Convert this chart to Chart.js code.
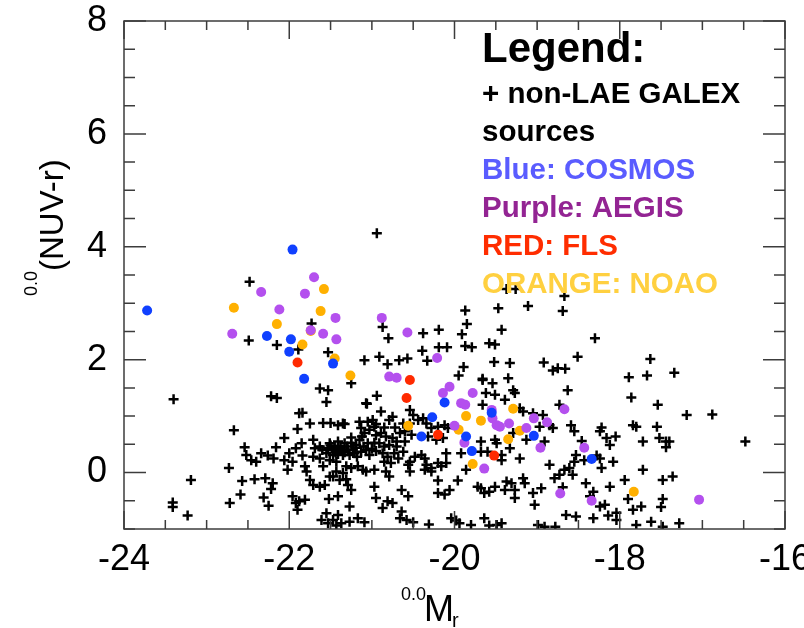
<!DOCTYPE html>
<html><head><meta charset="utf-8">
<script src="https://cdn.jsdelivr.net/npm/chart.js@4.4.0/dist/chart.umd.min.js"></script>
<style>html,body{margin:0;padding:0;background:#fff;}canvas{display:block;}</style>
</head><body>
<canvas id="c" width="804" height="628"></canvas>
<script>
const xTicks = [-24, -22, -20, -18, -16];
const yTicks = [0, 2, 4, 6, 8];

const galexPoints = [
[-22.48,3.38],[-22.49,2.34],[-22.15,2.26],[-21.89,2.18],[-21.73,2.64],[-21.53,2.13],
[-20.94,4.24],[-19.37,3.25],[-19.26,3.25],[-19.87,2.87],[-19.47,2.91],[-19.11,2.95],[-19.85,2.63],[-19.43,2.53],[-20.87,2.58],[-20.80,2.38],[-20.38,2.47],[-20.19,2.53],[-19.91,2.45],[-20.39,2.16],[-20.19,2.22],[-20.09,2.22],[-19.87,2.24],[-19.79,2.22],[-19.58,2.29],[-19.51,2.27],[-21.09,1.99],[-20.91,2.05],[-20.81,1.92],[-20.67,1.99],[-20.57,2.02],[-20.33,1.98],[-19.89,1.87],[-19.52,1.96],[-19.33,1.94],[-18.92,1.95],[-18.81,1.81],[-18.75,1.85],[-19.95,1.72],[-19.66,1.66],[-19.35,1.67],[-18.67,3.13],[-18.69,2.86],[-18.30,2.38],[-18.51,2.05],[-18.66,1.84],[-17.63,2.01],[-17.89,1.69],[-17.67,1.72],[-17.34,1.77],
[-23.40,1.30],[-22.22,1.35],[-22.15,1.32],[-21.63,1.49],[-21.53,1.46],[-21.55,1.25],[-21.88,1.05],[-21.84,1.06],[-21.75,0.87],[-21.90,0.77],[-21.59,0.88],[-21.50,0.88],[-22.67,0.75],[-22.54,0.45],[-22.52,0.31],[-22.46,0.22],[-22.40,0.19],[-22.34,0.34],[-22.26,0.30],[-22.19,0.25],[-22.16,0.45],[-22.06,0.61],[-22.06,0.22],[-22.00,0.34],[-22.02,0.05],[-21.92,0.43],[-21.85,0.52],[-21.84,0.30],[-21.81,0.11],[-21.79,0.02],[-21.71,0.58],[-21.69,0.43],[-21.63,0.46],[-21.59,0.11],[-21.55,0.34],[-21.51,-0.07],[-21.45,0.46],[-21.41,0.55],[-22.73,0.08],[-23.19,-0.13],[-22.57,-0.15],[-22.42,-0.12],[-22.29,-0.10],[-22.20,-0.19],[-22.22,-0.29],[-22.31,-0.44],[-22.59,-0.39],[-22.72,-0.54],[-22.25,-0.59],[-23.41,-0.53],[-23.41,-0.61],[-23.23,-0.76],[-21.96,-0.42],[-21.92,-0.54],[-21.88,-0.51],[-21.81,-0.48],[-21.90,-0.66],[-21.75,-0.13],[-21.71,-0.22],[-21.63,-0.25],[-21.57,-0.22],[-21.52,-0.47],[-21.61,-0.84],[-21.55,-0.72],[-21.53,-0.90],[-21.47,-0.07],[-21.41,-0.42],
[-21.06,1.22],[-21.41,0.84],[-21.33,0.86],[-21.15,0.90],[-21.05,0.90],[-20.99,0.93],[-21.13,0.79],[-21.03,0.76],[-20.97,0.81],[-21.09,0.70],[-21.51,0.52],[-21.33,0.52],[-21.25,0.53],[-21.19,0.49],[-21.15,0.58],[-21.05,0.52],[-20.97,0.53],[-21.53,0.43],[-21.47,0.40],[-21.41,0.43],[-21.35,0.40],[-21.29,0.41],[-21.23,0.40],[-21.47,0.31],[-21.41,0.33],[-21.35,0.31],[-21.27,0.31],[-21.21,0.34],[-21.13,0.37],[-21.07,0.40],[-21.03,0.31],[-21.71,0.28],[-21.63,0.25],[-21.96,0.19],[-21.51,0.22],[-21.43,0.19],[-21.31,0.11],[-21.25,0.08],[-21.17,0.11],[-21.11,0.05],[-21.43,0.02],[-21.35,-0.01],[-21.07,0.02],[-20.97,0.05],[-21.39,-0.13],[-21.31,-0.12],[-21.29,-0.22],[-21.25,-0.31],[-20.97,-0.25],[-20.95,-0.45],[-21.27,-0.60],[-21.41,-0.75],[-21.47,-0.84],[-21.37,-0.90],[-21.27,-0.87],[-21.17,-0.81],[-21.43,-0.94],
[-21.50,0.48],[-21.38,0.47],[-21.30,0.46],[-21.20,0.44],[-21.10,0.46],[-21.44,0.36],[-21.33,0.36],[-21.18,0.28],[-21.00,0.42],[-21.60,0.40],[-21.25,0.62],[-21.12,0.64],[-20.95,0.66],
[-20.95,0.86],[-20.85,0.80],[-20.72,0.80],[-20.70,0.55],[-20.60,0.55],[-20.95,0.38],[-20.68,0.25],
[-20.89,1.08],[-20.79,0.93],[-20.75,0.99],[-20.54,1.11],[-20.50,1.02],[-20.62,0.87],[-20.54,0.87],[-20.44,0.93],[-20.38,0.96],[-20.34,0.87],[-20.89,0.70],[-20.83,0.64],[-20.75,0.61],[-20.66,0.70],[-20.60,0.73],[-20.52,0.67],[-20.28,0.79],[-20.20,0.81],[-20.12,0.84],[-20.08,0.79],[-20.32,0.64],[-20.22,0.58],[-20.14,0.61],[-20.91,0.52],[-20.85,0.46],[-20.79,0.49],[-20.70,0.46],[-20.87,0.34],[-20.81,0.28],[-20.73,0.34],[-20.62,0.37],[-20.48,0.28],[-20.40,0.31],[-20.36,0.25],[-20.10,0.34],[-20.85,0.19],[-20.77,0.17],[-20.54,0.19],[-20.56,0.14],[-20.34,0.14],[-20.28,0.08],[-20.20,0.17],[-20.16,0.11],[-20.10,0.17],[-19.86,0.05],[-19.92,0.34],[-20.83,0.02],[-20.79,-0.07],[-20.54,0.02],[-20.36,0.05],[-20.28,0.02],[-20.20,-0.14],[-19.96,-0.14],[-19.72,-0.25],[-20.64,-0.31],[-20.56,-0.42],[-20.20,-0.36],[-20.12,-0.39],[-20.06,-0.31],[-20.81,-0.51],[-20.75,-0.54],[-20.87,-0.63],[-20.64,-0.69],[-20.66,-0.81],[-20.58,-0.84],[-20.50,-0.88],[-20.04,-0.81],[-19.98,-0.85],[-19.94,-0.90],[-19.80,-0.93],
[-19.62,1.41],[-19.51,1.38],[-19.27,1.41],[-19.39,1.29],[-19.66,1.20],[-19.21,1.14],[-19.17,1.08],[-18.73,1.20],[-18.63,1.46],[-19.05,1.05],[-18.93,1.02],[-18.81,0.79],[-18.85,0.84],[-18.97,0.81],[-19.29,0.70],[-19.13,0.58],[-18.91,0.55],[-19.51,0.58],[-19.49,0.52],[-19.68,0.55],[-19.33,0.43],[-19.68,0.37],[-19.60,0.37],[-19.43,0.31],[-19.43,0.22],[-19.21,0.25],[-18.85,0.14],[-18.53,0.31],[-18.55,0.19],[-18.67,0.05],[-18.61,0.08],[-18.73,-0.04],[-18.79,-0.10],[-18.69,-0.26],[-19.68,-0.28],[-19.64,-0.36],[-19.58,-0.34],[-19.51,-0.25],[-19.37,-0.16],[-19.31,-0.19],[-19.17,-0.10],[-19.15,-0.19],[-19.39,-0.31],[-19.27,-0.31],[-19.27,-0.45],[-19.05,-0.36],[-18.95,-0.28],[-19.03,-0.57],[-18.53,-0.78],[-18.65,-0.75],[-19.64,-0.81],[-19.49,-0.93],[-18.99,-0.93],[-18.91,-0.96],
[-21.25,1.58],[-20.94,1.36],[-21.07,1.23],[-19.66,1.64],[-19.54,1.58],[-19.29,1.46],[-21.35,0.87],
[-17.86,1.33],[-17.54,1.20],[-17.19,1.02],[-16.88,1.03],[-18.59,0.84],[-18.55,0.73],[-18.22,0.80],[-18.24,0.73],[-17.84,0.84],[-17.80,0.81],[-17.55,0.81],[-18.16,0.61],[-18.12,0.49],[-18.05,0.64],[-18.46,0.56],[-17.72,0.55],[-17.52,0.61],[-17.44,0.55],[-17.40,0.55],[-17.44,0.45],[-16.48,0.55],[-18.28,0.30],[-18.24,0.25],[-18.43,0.22],[-18.08,0.19],[-18.22,0.08],[-17.72,0.05],[-18.57,-0.04],[-17.94,-0.13],[-17.48,-0.13],[-17.36,-0.07],[-18.41,-0.19],[-18.12,-0.25],[-18.32,-0.34],[-18.36,-0.42],[-17.90,-0.47],[-17.48,-0.47],[-18.18,-0.57],[-18.24,-0.60],[-17.74,-0.60],[-17.84,-0.66],[-17.50,-0.61],[-18.04,-0.71],[-18.14,-0.76],[-18.32,-0.81],[-17.62,-0.87],[-17.80,-0.93],
[-21.09,-0.88],[-20.31,-0.92],[-19.58,-0.94],[-19.43,-0.90],[-18.78,-0.96],[-18.04,-0.84],[-17.48,-0.96],[-17.28,-0.90]
];

const cosmosPoints = [
[-23.72,2.87],[-21.96,3.95],[-22.27,2.42],[-21.98,2.36],[-22.00,2.14],[-21.47,1.93],[-21.82,1.66],
[-20.12,1.24],[-20.27,0.98],[-20.40,0.64],[-19.86,0.64],[-19.79,0.38],[-19.55,1.06],[-19.04,0.65],[-18.34,0.24]
];

const aegisPoints = [
[-21.70,3.46],[-22.34,3.20],[-21.81,3.17],[-22.12,2.89],[-21.44,2.74],[-22.69,2.46],[-21.74,2.52],[-21.59,2.46],[-21.43,2.36],
[-20.88,2.74],[-20.57,2.48],[-20.21,2.03],[-20.79,1.70],[-20.70,1.68],[-20.06,1.52],[-20.14,1.41],[-19.78,1.41],[-19.92,1.23],[-19.87,1.20],
[-19.55,1.11],[-19.54,0.96],[-19.49,0.84],[-19.45,0.81],[-19.34,0.87],[-19.04,0.96],[-18.88,0.89],[-19.13,0.79],[-20.00,0.83],[-19.88,0.53],
[-18.96,0.44],[-19.64,0.07],[-18.72,-0.37],[-18.67,1.12],[-18.43,0.44],[-18.34,-0.50],[-17.04,-0.48]
];

const flsPoints = [
[-21.90,1.95],[-20.54,1.64],[-20.58,1.32],[-20.20,0.67],[-19.52,0.30]
];

const noaoPoints = [
[-21.58,3.25],[-22.67,2.92],[-21.62,2.86],[-22.15,2.63],[-21.84,2.27],[-21.45,2.02],[-21.74,2.51],[-21.26,1.72],
[-20.56,0.83],[-19.86,1.00],[-19.95,0.76],[-19.68,0.92],[-19.29,1.13],[-19.21,0.74],[-19.35,0.59],[-19.78,0.15],[-17.83,-0.34]
];

const legendTitle = "Legend:";
const legendLines = [
  {text: "+ non-LAE GALEX", color: "#000000"},
  {text: "sources", color: "#000000"},
  {text: "Blue: COSMOS", color: "#5a5cff"},
  {text: "Purple: AEGIS", color: "#932493"},
  {text: "RED: FLS", color: "#ff2d00"},
  {text: "ORANGE: NOAO", color: "#ffd040"}
];

const FONT = "'Liberation Sans', Arial, Helvetica, sans-serif";
const toXY = arr => arr.map(p => ({x: p[0], y: p[1]}));

const framePlugin = {
  id: 'frame',
  afterDatasetsDraw(chart) {
    const {ctx, chartArea: a, scales: {x, y}} = chart;
    ctx.save();
    ctx.strokeStyle = '#3c3c3c';
    ctx.lineWidth = 1.5;
    ctx.strokeRect(a.left, a.top, a.right - a.left, a.bottom - a.top);
    ctx.beginPath();
    for (let v = x.min; v <= x.max + 1e-9; v += 0.5) {
      const px = x.getPixelForValue(v);
      const major = xTicks.some(t => Math.abs(t - v) < 1e-6);
      const L = major ? 18 : 9;
      ctx.moveTo(px, a.bottom); ctx.lineTo(px, a.bottom - L);
      ctx.moveTo(px, a.top); ctx.lineTo(px, a.top + L);
    }
    for (let v = y.min; v <= y.max + 1e-9; v += 0.5) {
      const py = y.getPixelForValue(v);
      const major = yTicks.some(t => Math.abs(t - v) < 1e-6);
      const L = major ? 22 : 11;
      ctx.moveTo(a.left, py); ctx.lineTo(a.left + L, py);
      ctx.moveTo(a.right, py); ctx.lineTo(a.right - L, py);
    }
    ctx.stroke();
    ctx.restore();
  },
  afterDraw(chart) {
    const {ctx, chartArea: a} = chart;
    ctx.save();
    ctx.textBaseline = 'alphabetic';
    ctx.textAlign = 'left';
    const lx = a.left + 358;
    ctx.fillStyle = '#000';
    ctx.font = "bold 42px " + FONT;
    ctx.fillText(legendTitle, lx, a.top + 41);
    ctx.font = "bold 29.5px " + FONT;
    legendLines.forEach((l, i) => {
      ctx.fillStyle = l.color;
      ctx.fillText(l.text, lx, a.top + 82 + i * 38);
    });
    // x axis title
    ctx.fillStyle = '#000';
    ctx.font = "18px " + FONT;
    ctx.fillText("0.0", 401, 600);
    ctx.font = "36px " + FONT;
    ctx.fillText("M", 424, 621);
    ctx.font = "20px " + FONT;
    ctx.fillText("r", 452, 627);
    // y axis title
    ctx.translate(63, 296);
    ctx.rotate(-Math.PI / 2);
    ctx.font = "18px " + FONT;
    ctx.fillText("0.0", 0, -26);
    ctx.font = "33px " + FONT;
    ctx.fillText("(NUV-r)", 25, 0);
    ctx.restore();
  }
};

const dotStyle = (color) => ({
  pointStyle: 'circle', pointRadius: 5, pointBackgroundColor: color,
  pointBorderColor: color, pointBorderWidth: 0, showLine: false
});

new Chart(document.getElementById('c'), {
  type: 'scatter',
  data: {
    datasets: [
      Object.assign({label: 'COSMOS', data: toXY(cosmosPoints), order: 1}, dotStyle('#1040ff')),
      Object.assign({label: 'AEGIS', data: toXY(aegisPoints), order: 2}, dotStyle('#b450ee')),
      Object.assign({label: 'FLS', data: toXY(flsPoints), order: 1}, dotStyle('#ff2a00')),
      Object.assign({label: 'NOAO', data: toXY(noaoPoints), order: 3}, dotStyle('#ffb000')),
      {label: 'non-LAE GALEX', data: toXY(galexPoints), order: 10,
       pointStyle: 'cross', pointRadius: 5, pointBorderColor: '#000', pointBorderWidth: 2.5,
       pointBackgroundColor: '#000', showLine: false}
    ]
  },
  options: {
    responsive: false, animation: false, devicePixelRatio: 1,
    layout: {padding: {top: 21, right: 19, left: 0, bottom: 0}},
    plugins: {legend: {display: false}, tooltip: {enabled: false}},
    scales: {
      x: {
        type: 'linear', min: -24, max: -16,
        grid: {display: false, drawTicks: false}, border: {display: false},
        ticks: {font: {family: FONT, size: 36}, color: '#000', padding: 9, maxRotation: 0, autoSkip: false},
        afterBuildTicks: s => { s.ticks = xTicks.map(v => ({value: v})); },
        afterFit: s => { s.height = 99; s.paddingLeft = 0; s.paddingRight = 0; }
      },
      y: {
        type: 'linear', min: -1, max: 8,
        grid: {display: false, drawTicks: false}, border: {display: false},
        ticks: {font: {family: FONT, size: 36}, color: '#000', padding: 17, autoSkip: false},
        afterBuildTicks: s => { s.ticks = yTicks.map(v => ({value: v})); },
        afterFit: s => { s.width = 124; s.paddingTop = 0; s.paddingBottom = 0; }
      }
    }
  },
  plugins: [framePlugin]
});
</script>
</body></html>
